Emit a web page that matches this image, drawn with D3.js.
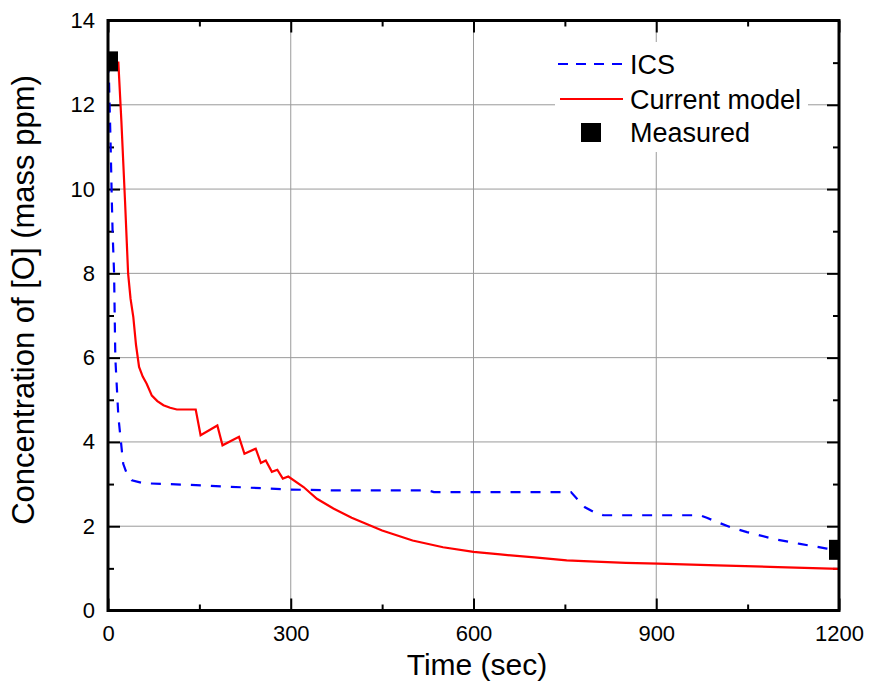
<!DOCTYPE html>
<html>
<head>
<meta charset="utf-8">
<script src="https://cdn.jsdelivr.net/npm/d3@7"></script>
<style>
  body { margin: 0; background: #fff; }
  svg { display: block; }
  .tick text { font-family: "Liberation Sans", Arial, sans-serif; font-size: 22px; }
</style>
</head>
<body>
<svg id="chart" width="872" height="699"></svg>
<script>
// ICS model (dashed blue)
const icsTime = [0, 1.6, 4.4, 6, 7.6, 10, 12, 17, 21, 25, 32, 39, 58, 135, 299, 375, 525, 535, 760, 772, 783, 800, 813, 972, 983, 1000, 1021, 1049, 1092, 1136, 1180, 1190];
const icsConc = [13, 12.6, 11.0, 9.9, 8.95, 8.0, 6.0, 4.6, 4.04, 3.48, 3.2, 3.09, 3.02, 2.98, 2.87, 2.85, 2.85, 2.81, 2.81, 2.62, 2.45, 2.32, 2.26, 2.26, 2.2, 2.1, 1.98, 1.86, 1.70, 1.58, 1.47, 1.45];

// current model (solid red)
const modelTime = [0, 12, 17, 22, 28, 33, 37, 41.5, 46, 51, 57, 63.5, 72, 81, 91, 102, 113, 144, 152, 179.5, 188, 215, 224, 242.5, 251, 259, 269, 278, 287, 296, 321, 343, 370, 400, 450, 500, 550, 600, 644, 700, 753, 800, 850, 903, 1000, 1100, 1200];
const modelConc = [13, 13, 13, 11.6, 9.7, 8.0, 7.4, 6.97, 6.3, 5.78, 5.55, 5.38, 5.1, 4.97, 4.87, 4.81, 4.77, 4.77, 4.16, 4.39, 3.92, 4.12, 3.72, 3.84, 3.5, 3.56, 3.29, 3.34, 3.13, 3.18, 2.93, 2.65, 2.42, 2.2, 1.9, 1.66, 1.5, 1.39, 1.33, 1.26, 1.19, 1.16, 1.13, 1.11, 1.07, 1.03, 0.99];

// measured
const measTime = [0, 1200];
const measConc = [13.03, 1.44];

const xTicks = [0, 300, 600, 900, 1200];
const xMinor = [150, 450, 750, 1050];
const yTicks = [0, 2, 4, 6, 8, 10, 12, 14];
const yMinor = [1, 3, 5, 7, 9, 11, 13];

const legendItems = ["ICS", "Current model", "Measured"];

const margin = { top: 20.5, right: 33, bottom: 88.5, left: 108 };
const width = 872 - margin.left - margin.right;
const height = 699 - margin.top - margin.bottom;

const svg = d3.select("#chart");
const g = svg.append("g").attr("transform", `translate(${margin.left},${margin.top})`);

const x = d3.scaleLinear().domain([0, 1200]).range([0, width]);
const y = d3.scaleLinear().domain([0, 14]).range([height, 0]);

svg.append("defs").append("clipPath").attr("id", "plotclip")
  .append("rect").attr("width", width).attr("height", height);

// grid
g.append("g").attr("class", "grid")
  .selectAll("line").data(xTicks.slice(1, -1)).join("line")
  .attr("x1", d => x(d)).attr("x2", d => x(d))
  .attr("y1", 0).attr("y2", height)
  .attr("stroke", "#9a9a9a").attr("stroke-width", 1);
g.append("g").attr("class", "grid")
  .selectAll("line").data(yTicks.slice(1, -1)).join("line")
  .attr("x1", 0).attr("x2", width)
  .attr("y1", d => y(d)).attr("y2", d => y(d))
  .attr("stroke", "#9a9a9a").attr("stroke-width", 1);

// legend background (covers the grid)
const lg = g.append("g").attr("transform", `translate(${555 - margin.left},${42 - margin.top})`);
lg.append("rect").attr("width", 253).attr("height", 110).attr("fill", "#fff");

// axes with inward ticks
function styleAxis(sel) {
  sel.select(".domain").remove();
  sel.selectAll(".tick line").attr("stroke", "#000").attr("stroke-width", 2);
}
const xAxis = g.append("g").attr("transform", `translate(0,${height})`)
  .call(d3.axisBottom(x).tickValues(xTicks).tickSizeInner(-12).tickSizeOuter(0).tickPadding(15).tickFormat(d3.format("d")));
styleAxis(xAxis);
const xMinorAxis = g.append("g").attr("transform", `translate(0,${height})`)
  .call(d3.axisBottom(x).tickValues(xMinor).tickSize(-6).tickFormat(""));
styleAxis(xMinorAxis);
const xTop = g.append("g").call(d3.axisTop(x).tickValues(xTicks).tickSize(-12).tickFormat(""));
styleAxis(xTop);
const xTopMinor = g.append("g").call(d3.axisTop(x).tickValues(xMinor).tickSize(-6).tickFormat(""));
styleAxis(xTopMinor);

const yAxis = g.append("g")
  .call(d3.axisLeft(y).tickValues(yTicks).tickSize(-12).tickPadding(13).tickFormat(d3.format("d")));
styleAxis(yAxis);
const yMinorAxis = g.append("g").call(d3.axisLeft(y).tickValues(yMinor).tickSize(-6).tickFormat(""));
styleAxis(yMinorAxis);
const yRight = g.append("g").attr("transform", `translate(${width},0)`)
  .call(d3.axisRight(y).tickValues(yTicks).tickSize(-12).tickFormat(""));
styleAxis(yRight);
const yRightMinor = g.append("g").attr("transform", `translate(${width},0)`)
  .call(d3.axisRight(y).tickValues(yMinor).tickSize(-6).tickFormat(""));
styleAxis(yRightMinor);

// data lines
const icsData = icsTime.map((t, i) => [t, icsConc[i]]);
const modelData = modelTime.map((t, i) => [t, modelConc[i]]);
const line = d3.line().x(d => x(d[0])).y(d => y(d[1]));

const plot = g.append("g").attr("clip-path", "url(#plotclip)");
plot.append("path").datum(icsData).attr("d", line)
  .attr("fill", "none").attr("stroke", "#0000ff").attr("stroke-width", 2.2)
  .attr("stroke-dasharray", "10,10");
plot.append("path").datum(modelData).attr("d", line)
  .attr("fill", "none").attr("stroke", "#ff0000").attr("stroke-width", 2.2);

plot.selectAll("rect.meas").data(measTime).join("rect").attr("class", "meas")
  .attr("x", (d) => x(d) - 10).attr("y", (d, i) => y(measConc[i]) - 10)
  .attr("width", 20).attr("height", 20).attr("fill", "#000");

// frame
g.append("rect").attr("width", width).attr("height", height)
  .attr("fill", "none").attr("stroke", "#000").attr("stroke-width", 3);

// legend
const lx = 558 - 555, rowY = [22, 57, 90];
lg.append("line").attr("x1", lx).attr("x2", lx + 64).attr("y1", rowY[0]).attr("y2", rowY[0])
  .attr("stroke", "#0000ff").attr("stroke-width", 2.2).attr("stroke-dasharray", "10,8");
lg.append("line").attr("x1", lx + 2).attr("x2", lx + 65).attr("y1", rowY[1]).attr("y2", rowY[1])
  .attr("stroke", "#ff0000").attr("stroke-width", 2.2);
lg.append("rect").attr("x", 591 - 555 - 10).attr("y", rowY[2] - 9).attr("width", 20).attr("height", 19).attr("fill", "#000");
lg.selectAll("text").data(legendItems).join("text")
  .attr("x", 630 - 555).attr("y", (d, i) => rowY[i])
  .attr("dy", "0.36em")
  .attr("font-family", "Liberation Sans, Arial, sans-serif").attr("font-size", 27)
  .text(d => d);

// axis titles
svg.append("text").attr("x", 477).attr("y", 675)
  .attr("text-anchor", "middle")
  .attr("font-family", "Liberation Sans, Arial, sans-serif").attr("font-size", 30)
  .text("Time (sec)");
svg.append("text").attr("transform", "translate(34,300) rotate(-90)")
  .attr("text-anchor", "middle")
  .attr("font-family", "Liberation Sans, Arial, sans-serif").attr("font-size", 31)
  .text("Concentration of [O] (mass ppm)");
</script>
</body>
</html>
